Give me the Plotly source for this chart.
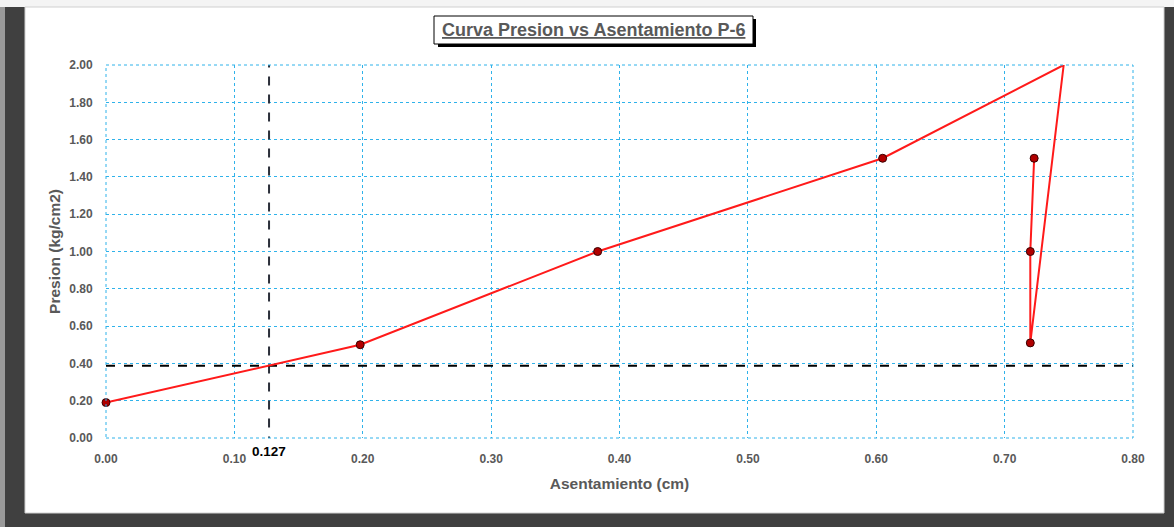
import plotly.graph_objects as go

# datos del ensayo de placa P-6
asentamiento = [0.000, 0.198, 0.383, 0.605, 0.746, 0.720, 0.720, 0.723]
presion = [0.19, 0.50, 1.00, 1.50, 2.00, 0.51, 1.00, 1.50]

# lineas de referencia
x_ref = 0.127
y_ref = 0.388

x_ticks = [0.0, 0.1, 0.2, 0.3, 0.4, 0.5, 0.6, 0.7, 0.8]
y_ticks = [0.0, 0.2, 0.4, 0.6, 0.8, 1.0, 1.2, 1.4, 1.6, 1.8, 2.0]

W, H = 1174, 527
L, R, T, B = 106, 41, 65, 89
pw, ph = W - L - R, H - T - B


def px(x):
    return (x - L) / pw


def py(y):
    return (H - B - y) / ph


gris = "#595959"
azul = "#2fb2ea"

fig = go.Figure()

fig.add_trace(go.Scatter(
    x=[x_ref, x_ref], y=[-0.04, max(y_ticks)],
    mode="lines", line=dict(color="#2b2f3a", width=2, dash="dash"),
    showlegend=False, cliponaxis=False, hoverinfo="skip",
))
fig.add_trace(go.Scatter(
    x=[min(x_ticks), max(x_ticks)], y=[y_ref, y_ref],
    mode="lines", line=dict(color="black", width=2, dash="dash"),
    showlegend=False, hoverinfo="skip",
))

fig.add_trace(go.Scatter(
    x=asentamiento, y=presion, mode="lines",
    line=dict(color="#ff1a1a", width=2), showlegend=False,
))
# el punto en el tope del eje no muestra marcador
pts = [(a, p) for a, p in zip(asentamiento, presion) if p < max(y_ticks)]
fig.add_trace(go.Scatter(
    x=[a for a, _ in pts], y=[p for _, p in pts], mode="markers",
    marker=dict(color="#b00000", size=8, line=dict(color="#3a0000", width=1)),
    showlegend=False, cliponaxis=False,
))

shapes = [
    # fondo oscuro + area blanca del grafico
    dict(type="rect", xref="paper", yref="paper", layer="below",
         x0=px(0), x1=px(W), y0=py(0), y1=py(7),
         fillcolor="#f4f4f4", line=dict(width=0)),
    dict(type="rect", xref="paper", yref="paper", layer="below",
         x0=px(0), x1=px(5), y0=py(7), y1=py(H),
         fillcolor="#9a9a9a", line=dict(width=0)),
    dict(type="rect", xref="paper", yref="paper", layer="below",
         x0=px(25), x1=px(1164), y0=py(513), y1=py(7),
         fillcolor="white", line=dict(color="#d0d0d0", width=1)),
    # borde punteado del area de trazado
    dict(type="rect", xref="paper", yref="paper",
         x0=0, x1=1, y0=0, y1=1,
         line=dict(color=azul, width=1, dash="dot")),
    # sombra y caja del titulo
    dict(type="rect", xref="paper", yref="paper",
         x0=px(438), x1=px(756), y0=py(47), y1=py(19),
         fillcolor="black", line=dict(width=0)),
    dict(type="rect", xref="paper", yref="paper",
         x0=px(434), x1=px(753), y0=py(44), y1=py(16),
         fillcolor="white", line=dict(color="black", width=1)),
]

annotations = [
    dict(text="<b><u>Curva Presion vs Asentamiento P-6</u></b>",
         xref="paper", yref="paper", x=px(593.5), y=py(30),
         showarrow=False, font=dict(size=18, color=gris, family="Liberation Sans"),
         xanchor="center", yanchor="middle"),
    dict(text="<b>0.127</b>", xref="x", yref="paper", x=x_ref, y=py(451),
         showarrow=False, font=dict(size=13.5, color="black"),
         xanchor="center", yanchor="middle"),
]

fig.update_layout(
    width=W, height=H,
    margin=dict(l=L, r=R, t=T, b=B),
    paper_bgcolor="#404040",
    plot_bgcolor="white",
    font=dict(family="Liberation Sans, Arial", color=gris),
    shapes=shapes,
    annotations=annotations,
    showlegend=False,
)

fig.update_xaxes(
    range=[0, 0.8], tickvals=x_ticks, ticktext=[f"<b>{v:.2f}</b>" for v in x_ticks],
    showgrid=True, gridcolor=azul, griddash="dot", gridwidth=1,
    zeroline=False, showline=False,
    ticks="outside", ticklen=10, tickcolor="rgba(0,0,0,0)",
    tickfont=dict(size=12, color=gris),
    title=dict(text="<b>Asentamiento (cm)</b>", font=dict(size=15.5, color=gris), standoff=12),
)
fig.update_yaxes(
    range=[0, 2.0], tickvals=y_ticks, ticktext=[f"<b>{v:.2f}</b>" for v in y_ticks],
    showgrid=True, gridcolor=azul, griddash="dot", gridwidth=1,
    zeroline=False, showline=False,
    ticks="outside", ticklen=10, tickcolor="rgba(0,0,0,0)",
    tickfont=dict(size=12, color=gris),
    title=dict(text="<b>Presion (kg/cm2)</b>", font=dict(size=15.5, color=gris), standoff=4),
)

fig.write_html("out.html", config={"displayModeBar": False},
               post_script="document.body.style.margin='0';")
